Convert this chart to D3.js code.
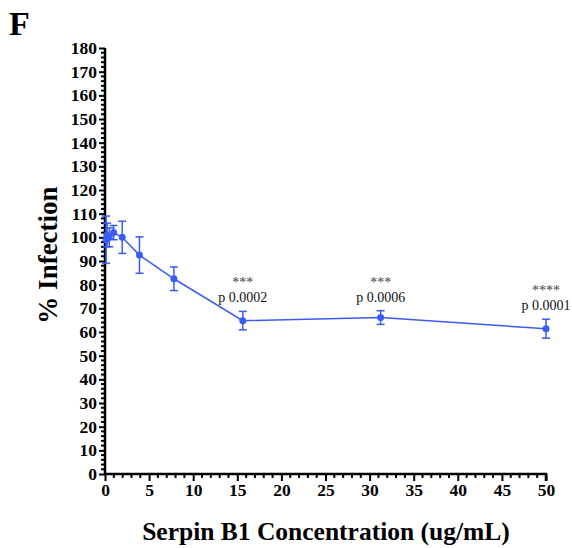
<!DOCTYPE html>
<html>
<head>
<meta charset="utf-8">
<script src="https://cdn.jsdelivr.net/npm/d3@7"></script>
<style>
  body { margin: 0; background: #fff; }
  svg { display: block; }
</style>
</head>
<body>
<svg id="chart" width="572" height="548"></svg>
<script>
// data
const conc = [0.122, 0.244, 0.488, 0.977, 1.953, 3.906, 7.8125, 15.625, 31.25, 50];
const infection = [99, 101, 100, 102, 100, 92.5, 82.5, 64.8, 66.1, 61.4];
const errs = [10, 5, 4, 3, 6.8, 7.7, 5, 3.9, 2.9, 4];

const sigX = [15.625, 31.25, 50];
const sigStars = ["***", "***", "****"];
const sigP = ["p 0.0002", "p 0.0006", "p 0.0001"];
const sigY = [82, 82, 78.7];

const xTicks = [0, 5, 10, 15, 20, 25, 30, 35, 40, 45, 50];
const yTicks = d3.range(0, 181, 10);

const svg = d3.select("#chart");
const serif = "'Liberation Serif', 'Times New Roman', serif";
const blue = "#3b5bf6";

const x = d3.scaleLinear().domain([0, 50]).range([105, 546]);
const y = d3.scaleLinear().domain([0, 180]).range([474, 48]);

// panel letter
svg.append("text")
  .attr("x", 9).attr("y", 35)
  .attr("font-family", serif).attr("font-weight", "bold").attr("font-size", 34)
  .text("F");

// minor ticks
svg.append("g")
  .selectAll("line")
  .data(d3.range(0, 181, 2).filter(v => v % 10 !== 0))
  .join("line")
  .attr("x1", x(0)).attr("x2", x(0) - 4)
  .attr("y1", d => y(d)).attr("y2", d => y(d))
  .attr("stroke", "#000").attr("stroke-width", 2);

svg.append("g")
  .selectAll("line")
  .data(d3.range(0, 51, 1).filter(v => v % 5 !== 0))
  .join("line")
  .attr("x1", d => x(d)).attr("x2", d => x(d))
  .attr("y1", y(0)).attr("y2", y(0) + 4)
  .attr("stroke", "#000").attr("stroke-width", 2);

// axes
const yAxis = svg.append("g")
  .attr("transform", `translate(${x(0)},0)`)
  .call(d3.axisLeft(y).tickValues(yTicks).tickSize(6).tickPadding(2));

const xAxis = svg.append("g")
  .attr("transform", `translate(0,${y(0)})`)
  .call(d3.axisBottom(x).tickValues(xTicks).tickSize(7).tickPadding(3));

[yAxis, xAxis].forEach(g => {
  g.select(".domain").attr("stroke", "#000").attr("stroke-width", 2.5);
  g.selectAll(".tick line").attr("stroke", "#000").attr("stroke-width", 2);
  g.selectAll("text")
    .attr("font-family", serif).attr("font-weight", "bold")
    .attr("font-size", 17.5).attr("fill", "#000");
});
yAxis.select(".domain").attr("d", `M-0,${y(180)}V${y(0)}`);
xAxis.select(".domain").attr("d", `M${x(0)},0H${x(50)}V7`);

// axis titles
svg.append("text")
  .attr("transform", `translate(57,${(y(0) + y(180)) / 2 - 6}) rotate(-90)`)
  .attr("text-anchor", "middle")
  .attr("font-family", serif).attr("font-weight", "bold").attr("font-size", 27)
  .text("% Infection");

svg.append("text")
  .attr("x", 326).attr("y", 540)
  .attr("text-anchor", "middle")
  .attr("font-family", serif).attr("font-weight", "bold").attr("font-size", 25.5)
  .text("Serpin B1 Concentration (ug/mL)");

// data
const pts = conc.map((c, i) => ({ c, v: infection[i], e: errs[i] }));

svg.append("path")
  .datum(pts)
  .attr("fill", "none")
  .attr("stroke", blue)
  .attr("stroke-width", 1.5)
  .attr("d", d3.line().x(d => x(d.c)).y(d => y(d.v)));

const eb = svg.append("g").attr("stroke", blue).attr("stroke-width", 1.5);
eb.selectAll(".v").data(pts).join("line")
  .attr("x1", d => x(d.c)).attr("x2", d => x(d.c))
  .attr("y1", d => y(d.v - d.e)).attr("y2", d => y(d.v + d.e));
eb.selectAll(".t").data(pts.flatMap(d => [d.v - d.e, d.v + d.e].map(v => ({ c: d.c, v }))))
  .join("line")
  .attr("x1", d => x(d.c) - 4).attr("x2", d => x(d.c) + 4)
  .attr("y1", d => y(d.v)).attr("y2", d => y(d.v));

svg.append("g").selectAll("circle").data(pts).join("circle")
  .attr("cx", d => x(d.c)).attr("cy", d => y(d.v))
  .attr("r", 3.5).attr("fill", blue);

// significance labels
const ann = svg.append("g")
  .attr("font-family", serif).attr("text-anchor", "middle");
sigX.forEach((c, i) => {
  ann.append("text")
    .attr("x", x(c)).attr("y", y(sigY[i]) + 7)
    .attr("font-size", 14).attr("fill", "#444")
    .text(sigStars[i]);
  ann.append("text")
    .attr("x", x(c)).attr("y", y(sigY[i]) + 22)
    .attr("font-size", 14).attr("fill", "#111")
    .text(sigP[i]);
});
</script>
</body>
</html>
